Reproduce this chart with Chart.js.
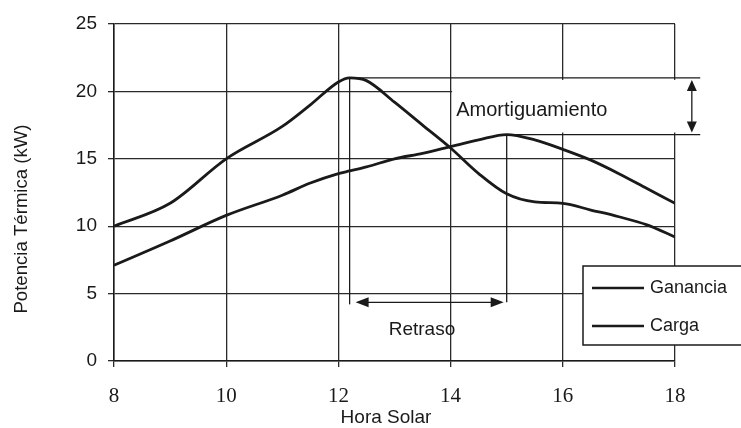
<!DOCTYPE html>
<html>
<head>
<meta charset="utf-8">
<title>Ganancia y Carga</title>
<script src="https://cdn.jsdelivr.net/npm/chart.js"></script>
<style>
  body { margin: 0; background: #fff; }
</style>
</head>
<body>
<canvas id="myChart" width="741" height="428"></canvas>

<script>
    // datos
    var horas    = [8, 9, 10, 11, 11.5, 12, 12.2, 12.5, 13, 13.5, 14, 14.5, 15, 15.5, 16, 16.5, 17, 17.5, 18];
    var ganancia = [10.0, 11.7, 15.0, 17.4, 19.0, 20.7, 21.0, 20.8, 19.2, 17.5, 15.8, 13.9, 12.4, 11.8, 11.7, 11.2, 10.7, 10.1, 9.2];
    var carga    = [7.1, 8.9, 10.8, 12.3, 13.2, 13.9, 14.1, 14.4, 15.0, 15.4, 15.9, 16.4, 16.8, 16.4, 15.7, 14.9, 13.9, 12.8, 11.7];
    var xTicks = [8, 10, 12, 14, 16, 18];
    var yTicks = [0, 5, 10, 15, 20, 25];
    var retrasoNivel = 4.35;

    var sans = "'Liberation Sans', Arial, sans-serif";
    var ink = '#1a1a1a';

    function pts(vals) {
        return horas.map(function (h, i) { return { x: h, y: vals[i] }; });
    }

    function arrowHead(ctx, x, y, dir) {
        // dir: 'up', 'down', 'left', 'right'
        ctx.beginPath();
        if (dir === 'up')    { ctx.moveTo(x, y); ctx.lineTo(x - 5, y + 11); ctx.lineTo(x + 5, y + 11); }
        if (dir === 'down')  { ctx.moveTo(x, y); ctx.lineTo(x - 5, y - 11); ctx.lineTo(x + 5, y - 11); }
        if (dir === 'left')  { ctx.moveTo(x, y); ctx.lineTo(x + 13, y - 5); ctx.lineTo(x + 13, y + 5); }
        if (dir === 'right') { ctx.moveTo(x, y); ctx.lineTo(x - 13, y - 5); ctx.lineTo(x - 13, y + 5); }
        ctx.closePath();
        ctx.fill();
    }

    function line(ctx, x1, y1, x2, y2) {
        ctx.beginPath();
        ctx.moveTo(x1, y1);
        ctx.lineTo(x2, y2);
        ctx.stroke();
    }

    function peaks(chart) {
        var x = chart.scales.x, y = chart.scales.y;
        var gi = ganancia.indexOf(Math.max.apply(null, ganancia));
        var ci = carga.indexOf(Math.max.apply(null, carga));
        return {
            gx: x.getPixelForValue(horas[gi]), gy: y.getPixelForValue(ganancia[gi]),
            cx: x.getPixelForValue(horas[ci]), cy: y.getPixelForValue(carga[ci])
        };
    }

    var anotaciones = {
        id: 'anotaciones',
        beforeDatasetsDraw: function (chart) {
            var ctx = chart.ctx, x = chart.scales.x;
            var p = peaks(chart);
            // fondo blanco de la etiqueta "Amortiguamiento"
            ctx.save();
            ctx.fillStyle = '#fff';
            ctx.fillRect(x.getPixelForValue(14) + 1.5, p.gy + 2, x.getPixelForValue(18) - x.getPixelForValue(14) + 1, p.cy - p.gy - 4);
            ctx.restore();
        },
        afterDatasetsDraw: function (chart) {
            var ctx = chart.ctx, x = chart.scales.x, y = chart.scales.y;
            var p = peaks(chart);
            var rx = x.getPixelForValue(18.45);
            var ax = x.getPixelForValue(18.3);
            var ry = y.getPixelForValue(retrasoNivel);

            ctx.save();
            ctx.strokeStyle = ink;
            ctx.fillStyle = ink;
            ctx.lineWidth = 1.3;

            // amortiguamiento
            line(ctx, p.gx, p.gy, rx, p.gy);
            line(ctx, p.cx, p.cy, rx, p.cy);
            line(ctx, ax, p.gy + 4, ax, p.cy - 4);
            arrowHead(ctx, ax, p.gy + 2, 'up');
            arrowHead(ctx, ax, p.cy - 2, 'down');

            // retraso
            line(ctx, p.gx, p.gy, p.gx, ry + 2);
            line(ctx, p.cx, p.cy, p.cx, ry);
            line(ctx, p.gx + 8, ry, p.cx - 6, ry);
            arrowHead(ctx, p.gx + 6, ry, 'left');
            arrowHead(ctx, p.cx - 3, ry, 'right');

            ctx.font = '20px ' + sans;
            ctx.textBaseline = 'middle';
            ctx.textAlign = 'left';
            ctx.fillText('Amortiguamiento', x.getPixelForValue(14.1), y.getPixelForValue(18.6));
            ctx.font = '19px ' + sans;
            ctx.textAlign = 'center';
            ctx.fillText('Retraso', x.getPixelForValue(13.49), y.getPixelForValue(2.3));
            ctx.restore();
        },
        afterDraw: function (chart) {
            var ctx = chart.ctx;
            var ds = chart.data.datasets;
            ctx.save();
            // leyenda
            ctx.fillStyle = '#fff';
            ctx.fillRect(583, 266, 170, 79);
            ctx.strokeStyle = ink;
            ctx.lineWidth = 1.5;
            ctx.strokeRect(583, 266, 170, 79);
            ctx.font = '18px ' + sans;
            ctx.textBaseline = 'middle';
            ctx.fillStyle = ink;
            var rows = [288, 326];
            ds.forEach(function (d, i) {
                ctx.lineWidth = 2.6;
                line(ctx, 592, rows[i], 644, rows[i]);
                ctx.fillText(d.label, 650, rows[i]);
            });

            // titulos de ejes
            ctx.font = '19px ' + sans;
            ctx.textAlign = 'center';
            ctx.fillText('Hora Solar', 386, 418);
            ctx.translate(22, 219);
            ctx.rotate(-Math.PI / 2);
            ctx.font = '18.6px ' + sans;
            ctx.fillText('Potencia Térmica (kW)', 0, 0);
            ctx.restore();
        }
    };

    var ctx = document.getElementById('myChart').getContext('2d');
    var myChart = new Chart(ctx, {
        type: 'line',
        data: {
            datasets: [
                { label: 'Ganancia', data: pts(ganancia), borderColor: ink, borderWidth: 2.8, pointRadius: 0, cubicInterpolationMode: 'monotone', fill: false },
                { label: 'Carga', data: pts(carga), borderColor: ink, borderWidth: 2.8, pointRadius: 0, cubicInterpolationMode: 'monotone', fill: false }
            ]
        },
        options: {
            responsive: false,
            animation: false,
            devicePixelRatio: 1,
            layout: { padding: { left: 0, right: 66, top: 24, bottom: 0 } },
            plugins: { legend: { display: false }, tooltip: { enabled: false } },
            scales: {
                x: {
                    type: 'linear', min: 8, max: 18,
                    afterBuildTicks: function (s) { s.ticks = xTicks.map(function (v) { return { value: v }; }); },
                    afterFit: function (s) { s.height = 67; },
                    grid: { color: '#2a2a2a', lineWidth: 1.3, tickLength: 6 },
                    border: { color: ink, width: 1.5 },
                    ticks: { color: ink, padding: 17, font: { family: "'Liberation Serif', serif", size: 21 } }
                },
                y: {
                    min: 0, max: 25,
                    afterBuildTicks: function (s) { s.ticks = yTicks.map(function (v) { return { value: v }; }); },
                    afterFit: function (s) { s.width = 114; },
                    grid: { color: '#2a2a2a', lineWidth: 1.3, tickLength: 6 },
                    border: { color: ink, width: 1.5 },
                    ticks: { color: ink, padding: 11, font: { family: sans, size: 19 } }
                }
            }
        },
        plugins: [anotaciones]
    });
</script>
</body>
</html>
